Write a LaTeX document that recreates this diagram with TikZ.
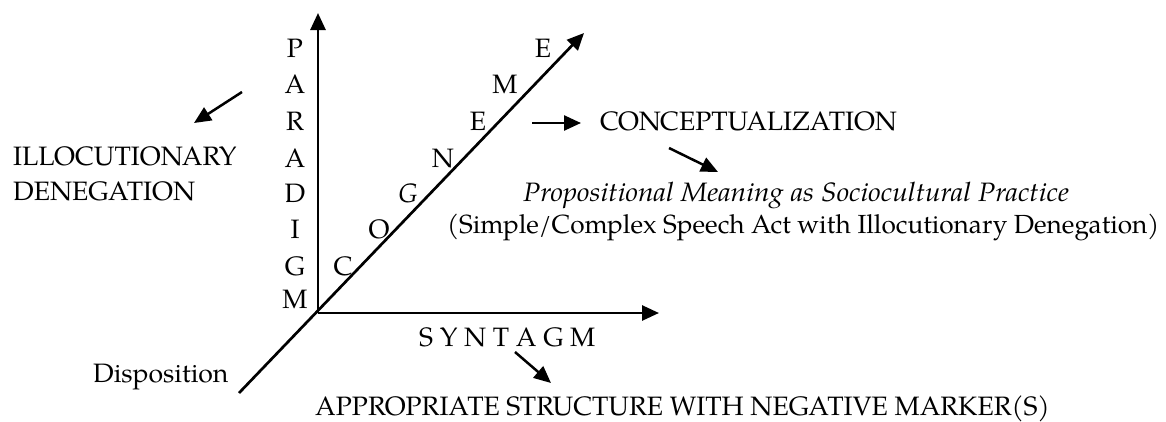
\documentclass[tikz,border=0pt]{standalone}
\usepackage{graphicx}
\usepackage{fontspec}
\setmainfont{TeX Gyre Pagella}
\usetikzlibrary{arrows.meta}
\tikzset{
  txt/.style={inner sep=0pt, anchor=base west, font=\fontsize{26.6}{32}\selectfont},
  ltr/.style={inner sep=0pt, anchor=base, font=\fontsize{26.6}{32}\selectfont},
  axis/.style={line width=2.7pt, -{Triangle[length=17pt,width=15pt]}},
  pointer/.style={line width=2.5pt, -{Triangle[length=17pt,width=15pt]}},
}
\begin{document}
\begin{tikzpicture}[x=1pt,y=-1pt]
\useasboundingbox (0,0) rectangle (1166,421);
% axes
\coordinate (O) at (318,313);
\coordinate (ytip) at (318,13);
\coordinate (xtip) at (659,313);
\coordinate (dtip) at (584,33);
\coordinate (dlow) at (239,393);
\draw[axis] (O) -- (ytip);
\draw[axis] (O) -- (xtip);
\draw[axis] (dlow) -- (dtip);
% PARADIGM
\node[ltr] (p1) at (295,57) {P};
\node[ltr] (p2) at (295,93) {A};
\node[ltr] (p3) at (295,130) {R};
\node[ltr] (p4) at (295,167) {A};
\node[ltr] (p5) at (295,202) {D};
\node[ltr] (p6) at (295,238) {I};
\node[ltr] (p7) at (295,275) {G};
\node[ltr] (p8) at (295,308) {M};
% COGNEME
\node[ltr] (c1) at (343,275) {C};
\node[ltr] (c2) at (379,238) {O};
\node[ltr] (c3) at (408,202) {\itshape G};
\node[ltr] (c4) at (443,167) {N};
\node[ltr] (c5) at (478,130) {E};
\node[ltr] (c6) at (505,93) {M};
\node[ltr] (c7) at (543,57) {E};
% left
\node[txt] (illoc) at (13,165) {ILLOCUTIONARY};
\node[txt] (deneg) at (13,200) {DENEGATION};
\coordinate (la1) at (242,92);
\coordinate (la2) at (194,123);
\draw[pointer] (la1) -- (la2);
% right
\coordinate (ra1) at (532,123);
\coordinate (ra2) at (581,123);
\draw[pointer] (ra1) -- (ra2);
\node[txt] (concept) at (600,130) {CONCEPTUALIZATION};
\coordinate (da1) at (669,148);
\coordinate (da2) at (718,172);
\draw[pointer] (da1) -- (da2);
\node[txt] (prop) at (523,201) {\scalebox{1.055}[1]{\itshape Propositional Meaning as Sociocultural Practice}};
\node[txt, font=\fontsize{26.2}{32}\selectfont] (simple) at (447,233) {(Simple/Complex Speech Act with Illocutionary Denegation)};
% bottom
\node[txt] (synt) at (419,346) {S Y N T A G M};
\coordinate (sa1) at (515,352);
\coordinate (sa2) at (551,383);
\draw[pointer] (sa1) -- (sa2);
\node[txt] (appr) at (315,415) {APPROPRIATE STRUCTURE WITH NEGATIVE MARKER(S)};
\node[txt] (disp) at (93,382) {Disposition};
\end{tikzpicture}
\end{document}
